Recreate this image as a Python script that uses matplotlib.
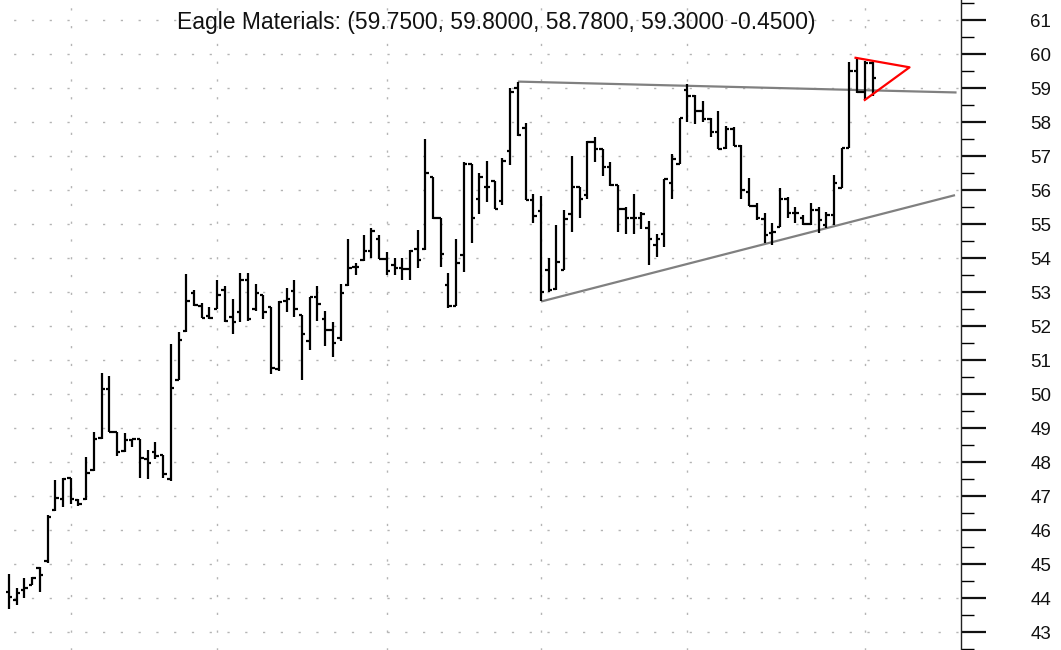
import matplotlib
matplotlib.use("Agg")
import matplotlib.pyplot as plt
import numpy as np

plt.rcParams['font.family'] = ['Liberation Sans', 'DejaVu Sans']

title = "Eagle Materials: (59.7500, 59.8000, 58.7800, 59.3000 -0.4500)"

opens = [44.2, 43.95, 44.25, 44.4, 44.9, 45.1, 46.6, 46.93, 47.54, 46.9,
         46.93, 47.78, 48.73, 50.15, 48.88, 48.34, 48.65, 48.68, 48.1, 48.3,
         48.21, 47.5, 50.43, 51.85, 52.98, 52.59, 52.31, 52.51, 53.06, 52.28,
         52.41, 53.37, 52.5, 52.93, 52.58, 50.75, 52.75, 53.04, 52.34, 51.58,
         52.85, 52.21, 51.89, 51.66, 53.22, 53.75, 53.95, 54.22, 54.58, 53.97,
         53.8, 53.73, 53.7, 54.29, 54.29, 56.38, 55.18, 53.22, 52.59, 54.1,
         56.79, 55.75, 56.09, 56.28, 55.7, 57.15, 59.0, 57.83, 55.73, 55.39,
         53.65, 53.1, 53.65, 55.3, 56.1, 55.85, 57.41, 57.21, 56.7, 56.16,
         55.46, 55.19, 55.19, 54.9, 54.39, 54.73, 56.22, 56.78, 58.95, 58.78,
         58.34, 58.1, 57.72, 57.26, 57.8, 57.3, 55.96, 55.54, 55.15, 54.74,
         54.93, 55.76, 55.34, 55.18, 55.01, 55.42, 54.98, 55.27, 56.06, 57.26,
         59.5, 58.9, 59.75]
highs = [44.73, 44.29, 44.61, 44.63, 44.93, 46.44, 47.48, 47.54, 47.54, 46.93,
         48.15, 48.88, 50.63, 50.54, 48.9, 48.87, 48.7, 48.68, 48.36, 48.6,
         48.21, 51.48, 51.82, 53.53, 53.07, 52.68, 52.56, 53.36, 53.19, 52.8,
         53.58, 53.58, 53.24, 52.93, 52.58, 52.75, 53.14, 53.36, 52.34, 52.85,
         53.19, 52.44, 52.12, 53.26, 54.58, 53.85, 54.68, 54.9, 54.68, 54.2,
         54.0, 54.0, 54.24, 54.83, 57.5, 56.38, 55.18, 53.56, 54.58, 56.82,
         56.79, 56.52, 56.86, 56.28, 56.96, 59.0, 59.2, 57.99, 55.88, 55.83,
         54.0, 54.97, 55.41, 57.0, 56.1, 57.46, 57.56, 57.21, 56.82, 56.16,
         55.51, 55.9, 55.36, 55.1, 54.73, 56.32, 57.07, 58.14, 59.12, 58.82,
         58.63, 58.14, 58.34, 57.9, 57.85, 57.33, 56.35, 55.62, 55.32, 55.03,
         56.06, 55.81, 55.52, 55.27, 55.64, 55.52, 55.37, 56.45, 57.26, 59.78,
         59.88, 59.8, 59.8]
lows = [43.68, 43.8, 44.0, 44.39, 44.2, 45.04, 46.57, 46.68, 46.78, 46.73,
        46.9, 47.76, 48.68, 48.88, 48.2, 48.31, 48.46, 47.53, 47.5, 48.1,
        47.55, 47.46, 50.41, 51.82, 52.6, 52.24, 52.21, 52.51, 52.12, 51.78,
        52.12, 52.17, 52.46, 52.21, 50.6, 50.7, 52.41, 52.28, 50.43, 51.29,
        52.17, 51.43, 51.09, 51.58, 53.2, 53.5, 53.93, 54.02, 53.97, 53.51,
        53.51, 53.37, 53.37, 53.71, 54.26, 55.17, 53.76, 52.54, 52.59, 53.61,
        54.44, 55.31, 55.65, 55.46, 55.58, 56.75, 57.6, 55.73, 55.05, 52.75,
        53.0, 53.07, 53.65, 54.78, 55.2, 55.75, 56.82, 56.43, 56.14, 54.78,
        54.73, 54.73, 54.87, 53.8, 54.04, 54.34, 55.75, 56.78, 58.0, 57.96,
        58.0, 57.56, 57.21, 57.21, 57.31, 55.75, 55.54, 55.13, 54.44, 54.39,
        54.93, 55.18, 55.03, 54.98, 54.98, 54.74, 54.88, 54.98, 56.06, 57.24,
        58.87, 58.65, 58.78]
closes = [44.05, 44.15, 44.3, 44.6, 44.7, 46.4, 46.95, 47.5, 46.93, 46.78,
          47.7, 48.68, 50.15, 48.9, 48.3, 48.65, 48.68, 48.12, 47.97, 48.2,
          47.65, 50.2, 51.6, 52.75, 52.63, 52.26, 52.24, 52.92, 52.15, 52.12,
          53.37, 52.23, 52.97, 52.41, 50.78, 52.72, 52.8, 52.51, 51.78, 52.85,
          52.65, 51.89, 51.5, 52.97, 53.73, 53.75, 54.22, 54.8, 53.97, 53.63,
          53.73, 53.68, 54.22, 53.95, 56.5, 55.18, 54.12, 52.59, 53.85, 56.79,
          55.18, 56.38, 56.09, 55.46, 56.86, 58.9, 57.64, 55.73, 55.24, 53.0,
          53.07, 53.9, 55.17, 56.1, 55.75, 57.41, 57.21, 56.7, 56.16, 55.46,
          55.19, 55.19, 55.3, 54.58, 54.58, 56.32, 56.92, 58.14, 58.78, 58.34,
          58.1, 57.72, 57.21, 57.8, 57.31, 56.0, 55.54, 55.18, 54.69, 54.78,
          55.76, 55.34, 55.34, 55.01, 55.42, 55.13, 55.27, 56.23, 57.26, 59.5,
          58.9, 59.75, 59.3]

# first trading day of each month (bar index)
month_starts = [8, 27, 49, 69, 88, 111]

# trend lines (bar index, price)
upper_line_x = [66, 122.9]
upper_line_y = [59.2, 58.88]
lower_line_x = [69, 122.7]
lower_line_y = [52.73, 55.86]
flag_x = [109.8, 116.8, 111.0]
flag_y = [59.9, 59.62, 58.66]

W, H = 1061, 650
fig = plt.figure(figsize=(W / 100, H / 100), dpi=100)
ax_right_px = 961
ax = fig.add_axes([0, 0, ax_right_px / W, 1])

px_per_bar = 7.71
first_bar_px = 9
x0 = -first_bar_px / px_per_bar
x1 = (ax_right_px - first_bar_px) / px_per_bar
ax.set_xlim(x0, x1)
ax.set_ylim(42.48, 61.6)

# grid
for v in range(43, 62):
    ax.axhline(v, color='#b4b4b4', lw=1.0, ls=(3, (1.6, 11.2)), zorder=0)
for m in month_starts:
    ax.axvline(m, color='#b4b4b4', lw=1.0, ls=(0, (1.6, 11.2)), zorder=0)

n = len(opens)
xs = np.arange(n)
tick = 0.45
ax.vlines(xs, lows, highs, color='black', lw=1.6, zorder=3)
ax.hlines(opens, xs - tick, xs, color='black', lw=1.6, zorder=3)
ax.hlines(closes, xs, xs + tick, color='black', lw=1.6, zorder=3)

ax.plot(upper_line_x, upper_line_y, color='#808080', lw=1.6, zorder=2,
        solid_capstyle='butt')
ax.plot(lower_line_x, lower_line_y, color='#808080', lw=1.6, zorder=2,
        solid_capstyle='butt')
ax.plot(flag_x, flag_y, color='#ff0000', lw=1.6, zorder=4)

# axes styling
for s in ['top', 'left', 'bottom']:
    ax.spines[s].set_visible(False)
ax.spines['right'].set_color('#222222')
ax.spines['right'].set_linewidth(1.0)
ax.set_xticks([])
ax.yaxis.tick_right()
ax.set_yticks(np.arange(43, 62))
ax.set_yticks(np.arange(42.5, 61.6, 0.5), minor=True)
ax.tick_params(axis='y', which='major', length=18, width=1.6, direction='out',
               pad=32, labelsize=13.5, colors='#111111')
ax.tick_params(axis='y', which='minor', length=9, width=1.0, direction='out')
ax.tick_params(axis='x', which='both', length=0)

fig.text(496 / W, 1 - 22 / H, title, ha='center', va='center', fontsize=16.5,
         color='#111111')

fig.savefig('out.png', dpi=100)
